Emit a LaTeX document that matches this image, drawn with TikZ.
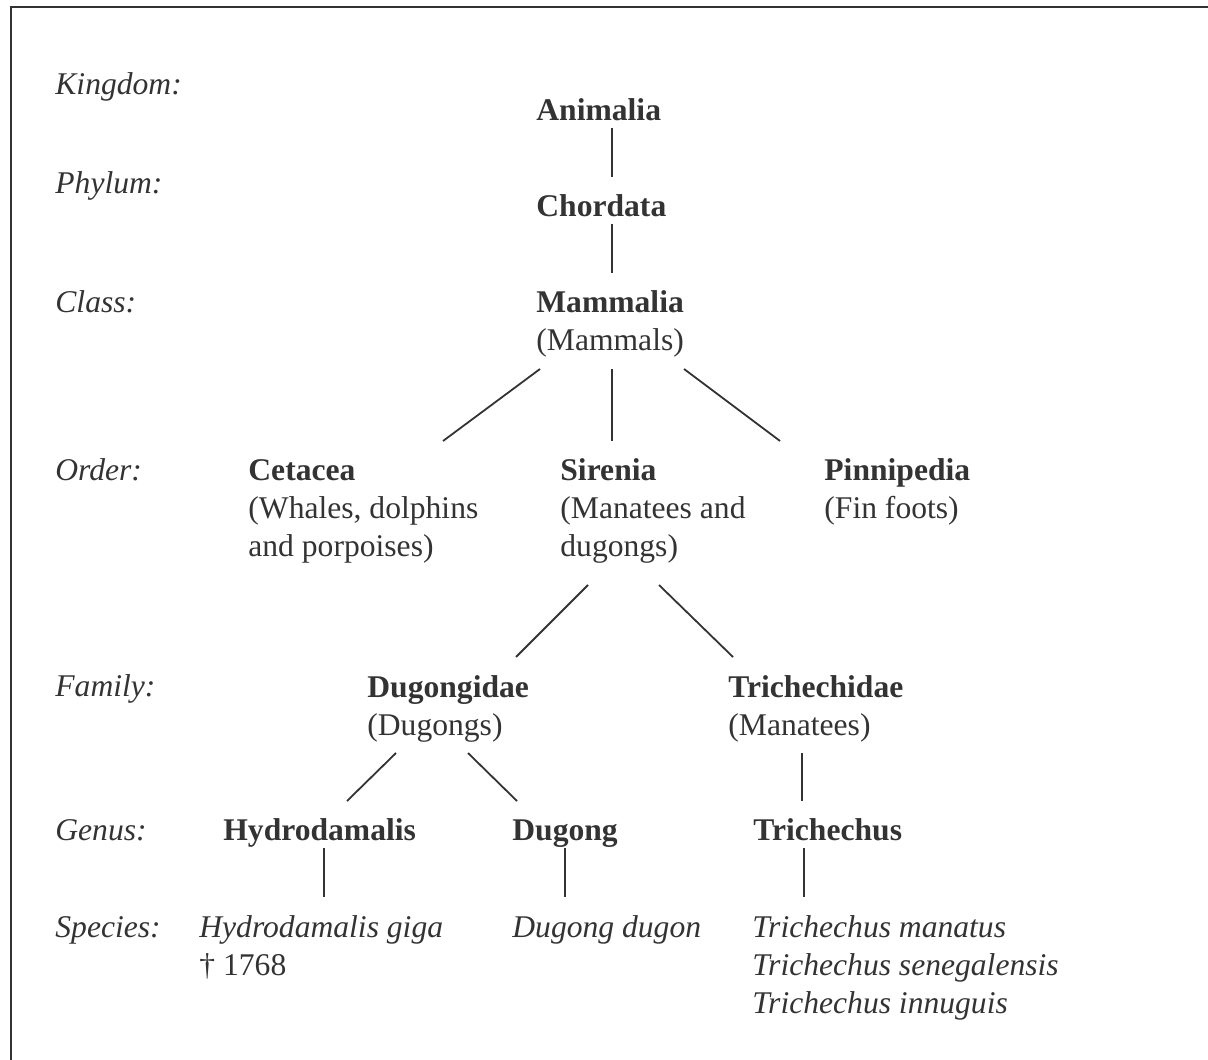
\documentclass[tikz,border=0pt]{standalone}
\usepackage{fontspec}
\setmainfont{Liberation Serif}
\begin{document}
\begin{tikzpicture}[x=0.5pt,y=-0.5pt]
    % Styles (base west of a taxon is the baseline of its last line)
    \tikzstyle{rank} = [anchor=base west,inner sep=0,font=\itshape]
    \tikzstyle{taxon} = [anchor=base west,inner sep=0,align=left]
    \tikzstyle{branch} = [line width=0.9pt]

    % Colors
    \colorlet{ink}{black!80}

    \useasboundingbox (0,0) rectangle (1208,1059);
    \fontsize{15.8pt}{19pt}\selectfont
    \draw[ink,line width=1pt] (11,7) rectangle (1240,1100);

    %%% Ranks
    \foreach \y/\rank in {95/Kingdom, 194/Phylum, 312/Class, 480/Order, 696/Family, 840/Genus, 937/Species}
    {
        \node[rank,ink] (rank-\rank) at (55,\y) {\rank:};
    }
    %%%

    %%% Taxa
    \node[taxon,ink] (animalia) at (536,121) {\textbf{Animalia}};
    \node[taxon,ink] (chordata) at (536,217) {\textbf{Chordata}};
    \node[taxon,ink] (mammalia) at (536,350) {\textbf{Mammalia}\\(Mammals)};

    \node[taxon,ink] (cetacea) at (248,556) {\textbf{Cetacea}\\(Whales, dolphins\\and porpoises)};
    \node[taxon,ink] (sirenia) at (560,556) {\textbf{Sirenia}\\(Manatees and\\dugongs)};
    \node[taxon,ink] (pinnipedia) at (824,518) {\textbf{Pinnipedia}\\(Fin foots)};

    \node[taxon,ink] (dugongidae) at (367,735) {\textbf{Dugongidae}\\(Dugongs)};
    \node[taxon,ink] (trichechidae) at (728,735) {\textbf{Trichechidae}\\(Manatees)};

    \node[taxon,ink] (hydrodamalis) at (223,840) {\textbf{Hydrodamalis}};
    \node[taxon,ink] (dugong) at (512,840) {\textbf{Dugong}};
    \node[taxon,ink] (trichechus) at (753,840) {\textbf{Trichechus}};

    \node[taxon,ink] (giga) at (199,975) {\textit{Hydrodamalis giga}\\\dag\ 1768};
    \node[taxon,ink] (dugon) at (512,937) {\textit{Dugong dugon}};
    \node[taxon,ink,font=\itshape] (manatus) at (752,1013) {Trichechus manatus\\Trichechus senegalensis\\Trichechus innuguis};
    %%%

    %%% Branches
    \draw[ink,branch] ([shift={(76,7)}]animalia.base west) -- ([shift={(76,-40)}]chordata.base west);
    \draw[ink,branch] ([shift={(76,7)}]chordata.base west) -- ([shift={(76,-77)}]mammalia.base west);

    \draw[ink,branch] ([shift={(4,19)}]mammalia.base west) -- ([shift={(195,-115)}]cetacea.base west);
    \draw[ink,branch] ([shift={(76,19)}]mammalia.base west) -- ([shift={(52,-115)}]sirenia.base west);
    \draw[ink,branch] ([shift={(148,19)}]mammalia.base west) -- ([shift={(-44,-77)}]pinnipedia.base west);

    \draw[ink,branch] ([shift={(28,29)}]sirenia.base west) -- ([shift={(149,-78)}]dugongidae.base west);
    \draw[ink,branch] ([shift={(99,29)}]sirenia.base west) -- ([shift={(5,-78)}]trichechidae.base west);

    \draw[ink,branch] ([shift={(29,18)}]dugongidae.base west) -- ([shift={(124,-39)}]hydrodamalis.base west);
    \draw[ink,branch] ([shift={(101,18)}]dugongidae.base west) -- ([shift={(5,-39)}]dugong.base west);
    \draw[ink,branch] ([shift={(74,18)}]trichechidae.base west) -- ([shift={(49,-39)}]trichechus.base west);

    \draw[ink,branch] ([shift={(101,8)}]hydrodamalis.base west) -- ([shift={(125,-78)}]giga.base west);
    \draw[ink,branch] ([shift={(53,8)}]dugong.base west) -- ([shift={(53,-40)}]dugon.base west);
    \draw[ink,branch] ([shift={(51,8)}]trichechus.base west) -- ([shift={(52,-116)}]manatus.base west);
    %%%
\end{tikzpicture}
\end{document}
